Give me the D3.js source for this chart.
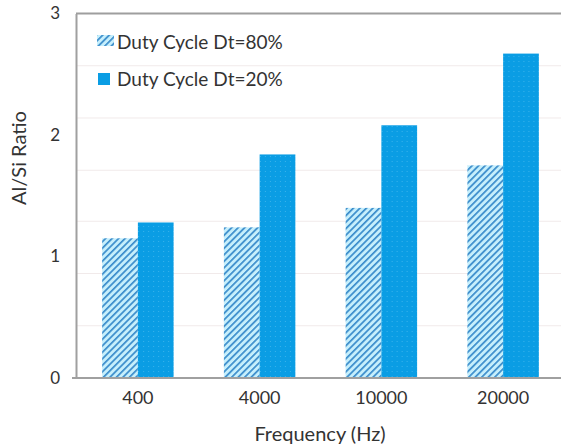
<!DOCTYPE html>
<html><head><meta charset="utf-8">
<script src="https://cdn.jsdelivr.net/npm/d3@7"></script>
<style>
html,body{margin:0;padding:0;background:#fff;}
svg{display:block;}
text{font-family:Lato, "Open Sans", sans-serif;fill:#333;}
</style></head>
<body>
<svg id="chart" width="561" height="448"></svg>
<script>
const categories = ["400", "4000", "10000", "20000"];
const seriesNames = ["Duty Cycle Dt=80%", "Duty Cycle Dt=20%"];
const dt80 = [1.15, 1.24, 1.40, 1.75];
const dt20 = [1.28, 1.84, 2.08, 2.67];
const yTicks = [0, 1, 2, 3];
const gridTicks = [0.43, 0.86, 1.29, 1.71, 2.14, 2.57];
const xTitle = "Frequency (Hz)";
const yTitle = "Al/Si Ratio";

const svg = d3.select("#chart");
const W = 561, H = 448;
const plot = {left: 76, right: 563, top: 13.5, bottom: 378};

const defs = svg.append("defs");
const hatch = defs.append("pattern").attr("id", "hatch")
  .attr("patternUnits", "userSpaceOnUse").attr("width", 4.6).attr("height", 4.6)
  .attr("patternTransform", "rotate(45)");
hatch.append("rect").attr("width", 4.6).attr("height", 4.6).attr("fill", "#c6effc");
hatch.append("rect").attr("x", 0).attr("width", 1.7).attr("height", 4.6).attr("fill", "#3a8ccb");

const dots = defs.append("pattern").attr("id", "dots")
  .attr("patternUnits", "userSpaceOnUse").attr("width", 5).attr("height", 5);
dots.append("rect").attr("width", 5).attr("height", 5).attr("fill", "#0a9de4");
dots.append("rect").attr("x", 1).attr("y", 1).attr("width", 1).attr("height", 1).attr("fill", "#3ab3ec");

const y = d3.scaleLinear().domain([0, 3]).range([plot.bottom, plot.top]);
const x0 = d3.scaleBand().domain(categories).range([77, 564]).paddingInner(0.413).paddingOuter(0.2065);
const x1 = d3.scaleBand().domain(seriesNames).range([0, x0.bandwidth()]);

// gridlines
svg.append("g").selectAll("line").data(gridTicks).join("line")
  .attr("x1", plot.left).attr("x2", W)
  .attr("y1", d => y(d)).attr("y2", d => y(d))
  .attr("stroke", "#f1eaea").attr("stroke-width", 1);

// top border
svg.append("line").attr("x1", plot.left).attr("x2", W)
  .attr("y1", plot.top).attr("y2", plot.top)
  .attr("stroke", "#9e9e9e").attr("stroke-width", 2);

// bars
const data = categories.map((c, i) => ({c, vals: [dt80[i], dt20[i]]}));
const g = svg.append("g").selectAll("g").data(data).join("g")
  .attr("transform", d => `translate(${x0(d.c)},0)`);
g.selectAll("rect").data(d => d.vals.map((v, j) => ({name: seriesNames[j], v, j}))).join("rect")
  .attr("x", d => x1(d.name))
  .attr("y", d => y(d.v))
  .attr("width", x1.bandwidth())
  .attr("height", d => y(0) - y(d.v))
  .attr("fill", d => d.j === 0 ? "url(#hatch)" : "url(#dots)");

// y axis
const yAxis = d3.axisLeft(y).tickValues(yTicks).tickFormat(d3.format("d")).tickSize(0).tickPadding(16);
const ya = svg.append("g").attr("transform", `translate(${plot.left},0)`).call(yAxis);
ya.select(".domain").attr("stroke", "#a0a0a0").attr("stroke-width", 2);
ya.selectAll("text").attr("font-size", 17).attr("fill", "#333").style("font-family", "Lato");

// x axis
const xAxis = d3.axisBottom(x0).tickSize(0).tickPadding(13);
const xa = svg.append("g").attr("transform", `translate(0,${plot.bottom})`).call(xAxis);
xa.select(".domain").attr("d", `M${plot.left - 4},0H${W}`).attr("stroke", "#a0a0a0").attr("stroke-width", 2);
xa.selectAll("text").attr("font-size", 18).attr("fill", "#333").style("font-family", "Lato");

// titles
svg.append("text").attr("x", 320).attr("y", 441).attr("text-anchor", "middle")
  .attr("font-size", 20).text(xTitle);
svg.append("text").attr("transform", "translate(26,158) rotate(-90)").attr("text-anchor", "middle")
  .attr("font-size", 20).text(yTitle);

// legend
const legend = svg.append("g");
const ly = [49, 86];
seriesNames.forEach((s, i) => {
  if (i === 0) {
    legend.append("rect").attr("x", 97).attr("y", 35).attr("width", 17).attr("height", 11).attr("fill", "url(#hatch)");
  } else {
    legend.append("rect").attr("x", 98).attr("y", 73).attr("width", 12).attr("height", 12).attr("fill", "#0a9de4");
  }
  legend.append("text").attr("x", 117).attr("y", ly[i])
    .attr("font-size", 19).text(s);
});
</script>
</body></html>
